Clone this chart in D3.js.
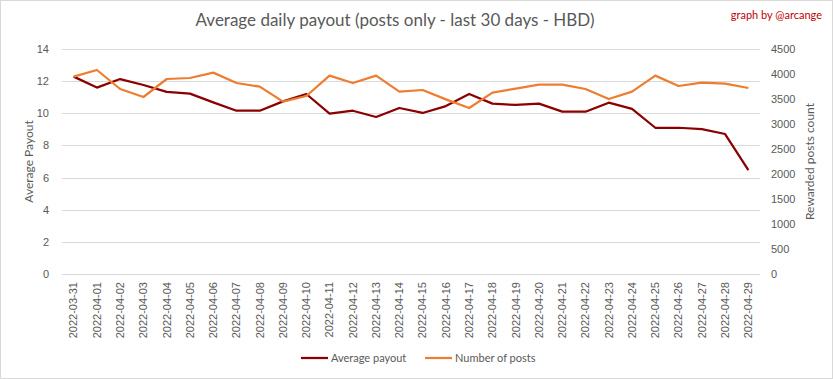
<!DOCTYPE html>
<html><head><meta charset="utf-8">
<script src="https://cdn.jsdelivr.net/npm/d3@7/dist/d3.min.js"></script>
<style>body{margin:0;background:#fff;} svg{display:block;font-family:Lato,"Open Sans",sans-serif;}</style>
</head><body>
<svg id="c" width="833" height="379"></svg>
<script>
const dates = ["2022-03-31","2022-04-01","2022-04-02","2022-04-03","2022-04-04","2022-04-05","2022-04-06","2022-04-07","2022-04-08","2022-04-09","2022-04-10","2022-04-11","2022-04-12","2022-04-13","2022-04-14","2022-04-15","2022-04-16","2022-04-17","2022-04-18","2022-04-19","2022-04-20","2022-04-21","2022-04-22","2022-04-23","2022-04-24","2022-04-25","2022-04-26","2022-04-27","2022-04-28","2022-04-29"];
const avgPayout = [12.28,11.6,12.13,11.76,11.33,11.22,10.68,10.16,10.16,10.74,11.2,9.98,10.16,9.77,10.33,10.02,10.45,11.2,10.6,10.52,10.6,10.1,10.1,10.66,10.27,9.1,9.1,9.02,8.71,6.47];
const numPosts = [3946,4080,3700,3540,3900,3920,4027,3820,3747,3447,3560,3967,3820,3967,3647,3680,3493,3320,3627,3707,3787,3787,3700,3500,3647,3967,3760,3827,3807,3720];
const leftTicks = [0,2,4,6,8,10,12,14];
const rightTicks = [0,500,1000,1500,2000,2500,3000,3500,4000,4500];

const svg = d3.select("#c");
const W=833,H=379;
svg.append("rect").attr("x",0.5).attr("y",0.5).attr("width",W-1).attr("height",H-1).attr("fill","#fff").attr("stroke","#d9d9d9");

const x0=62,x1=760,yTop=49,yBot=274;
const x = d3.scaleBand().domain(dates).range([x0,x1]);
const yL = d3.scaleLinear().domain([0,14]).range([yBot,yTop]);
const yR = d3.scaleLinear().domain([0,4500]).range([yBot,yTop]);
const txt="#595959";

// gridlines
svg.append("g").selectAll("line").data(leftTicks).join("line")
  .attr("x1",x0).attr("x2",x1).attr("y1",d=>Math.round(yL(d))+0.5).attr("y2",d=>Math.round(yL(d))+0.5)
  .attr("stroke","#d9d9d9").attr("stroke-width",1);

// left axis
const gl = svg.append("g").attr("transform",`translate(${x0},0)`).call(d3.axisLeft(yL).tickValues(leftTicks).tickSize(0).tickPadding(13));
gl.select(".domain").remove();
gl.selectAll("text").attr("fill",txt).style("font-size","11px");

// right axis
const gr = svg.append("g").attr("transform",`translate(${x1},0)`).call(d3.axisRight(yR).tickValues(rightTicks).tickFormat(d3.format("d")).tickSize(0).tickPadding(11));
gr.select(".domain").remove();
gr.selectAll("text").attr("fill",txt).style("font-size","11px");

// x axis
const gx = svg.append("g").attr("transform",`translate(0,${yBot})`).call(d3.axisBottom(x).tickSize(0).tickPadding(0));
gx.select(".domain").remove();
gx.selectAll("text").attr("fill",txt).style("font-size","11px")
  .attr("transform","rotate(-90)").attr("text-anchor","end").attr("dx","-8").attr("dy","0.35em").attr("y",0);

// lines
const lineL = d3.line().x((d,i)=>x(dates[i])+x.bandwidth()/2).y(d=>yL(d));
const lineR = d3.line().x((d,i)=>x(dates[i])+x.bandwidth()/2).y(d=>yR(d));
svg.append("path").datum(avgPayout).attr("d",lineL).attr("fill","none").attr("stroke","#8B0000").attr("stroke-width",2.25).attr("stroke-linejoin","round");
svg.append("path").datum(numPosts).attr("d",lineR).attr("fill","none").attr("stroke","#ED7D31").attr("stroke-width",2.25).attr("stroke-linejoin","round");

// titles
svg.append("text").attr("x",395).attr("y",26).attr("text-anchor","middle").attr("fill",txt).style("font-size","17px").text("Average daily payout (posts only - last 30 days - HBD)");
svg.append("text").attr("x",822).attr("y",19).attr("text-anchor","end").attr("fill","#c00000").style("font-size","11px").text("graph by @arcange");
svg.append("text").attr("transform",`translate(33,${(yTop+yBot)/2}) rotate(-90)`).attr("text-anchor","middle").attr("fill",txt).style("font-size","12px").text("Average Payout");
svg.append("text").attr("transform",`translate(814,${(yTop+yBot)/2}) rotate(-90)`).attr("text-anchor","middle").attr("fill",txt).style("font-size","12px").text("Rewarded posts count");

// legend
const leg = [{n:"Average payout",c:"#8B0000",x:301},{n:"Number of posts",c:"#ED7D31",x:425}];
const lg = svg.append("g").selectAll("g").data(leg).join("g").attr("transform",d=>`translate(${d.x},358)`);
lg.append("line").attr("x1",0).attr("x2",27).attr("y1",0).attr("y2",0).attr("stroke",d=>d.c).attr("stroke-width",2.25);
lg.append("text").attr("x",30).attr("y",4).attr("fill",txt).style("font-size","11px").text(d=>d.n);
</script>
</body></html>
